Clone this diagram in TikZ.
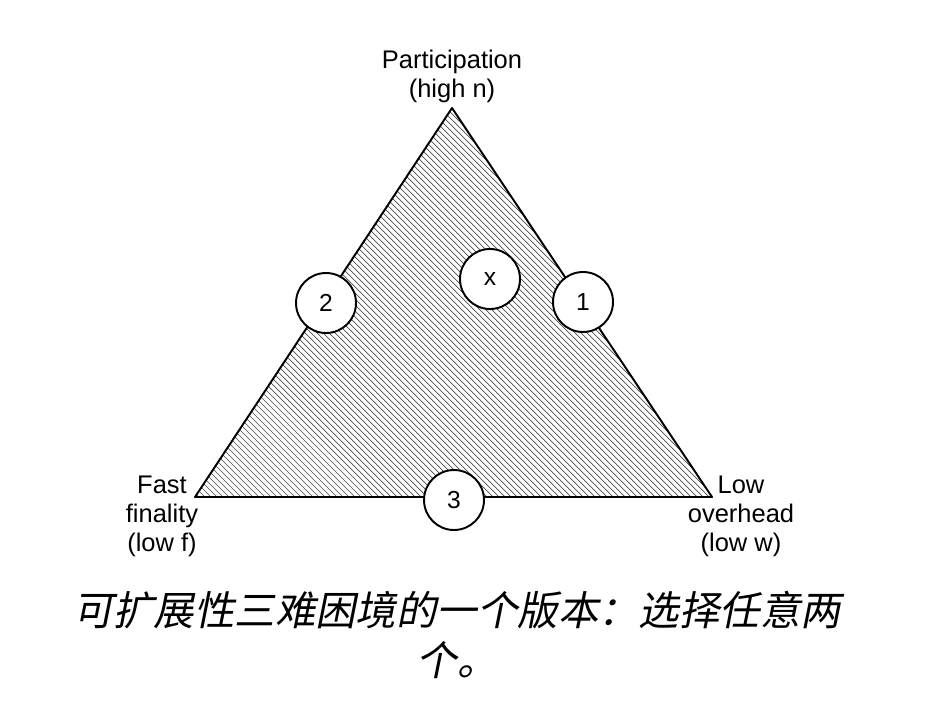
\documentclass[tikz,border=0pt]{standalone}
\usepackage{fontspec}
\setmainfont{Liberation Sans}
\newfontfamily\cjk[FakeSlant=0.2]{Noto Sans CJK SC}
\usetikzlibrary{positioning}

\begin{document}
\begin{tikzpicture}[x=0.02cm, y=-0.02cm,
        edge/.style={line width=1.1pt, line join=round},
        hatch/.style={black!70, line width=0.4pt},
        badge/.style={circle, draw, line width=1.1pt, fill=white, minimum size=1.2cm, inner sep=0pt, font=\fontsize{14}{16}\selectfont},
        corner/.style={align=center, font=\fontsize{14.5}{16.5}\selectfont}]
        \useasboundingbox (0,0) rectangle (932,702);

        % Corners of the triangle
        \coordinate (top) at (452,108);
        \coordinate (left) at (195,497);
        \coordinate (right) at (712,497);

        % Hatching inside
        \begin{scope}
            \clip (top) -- (left) -- (right) -- cycle;
            \foreach \a in {-216,-210,...,720} {
                \draw[hatch] (\a,100) -- (\a+400,500);
            }
        \end{scope}
        \draw[edge] (top) -- (left) -- (right) -- cycle;

        % Labels at the corners
        \node[corner] (part) at (452,76) {Participation\\(high n)};
        \node[corner] (fast) at (162,516) {Fast\\finality\\(low f)};
        \node[corner] (low) at (741,516) {Low\\overhead\\(low w)};

        % Circles
        \node[badge] (two) at (326,303) {2};
        \node[badge] (x) at (490,279) {x};
        \node[badge] (one) at (583,302) {1};
        \node[badge] (three) at (454,500) {3};

        % Caption
        \node[align=center, font=\cjk\fontsize{23}{25}\selectfont] (caption) at (457,635)
            {可扩展性三难困境的一个版本：选择任意两\\[3.5pt]个。};
    \end{tikzpicture}
\end{document}
